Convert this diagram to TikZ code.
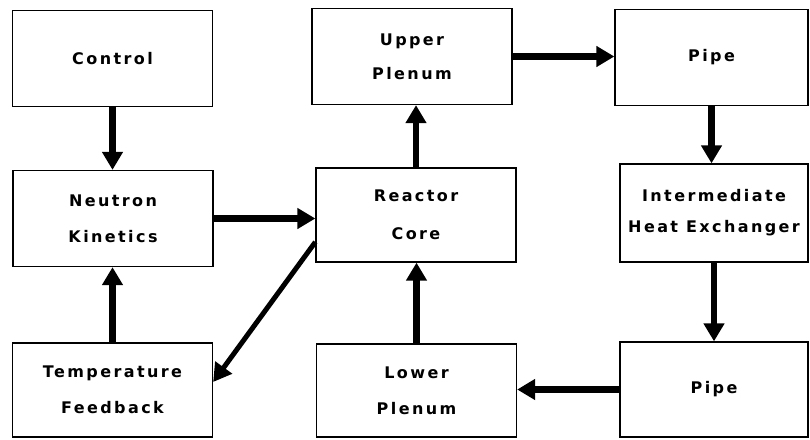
\documentclass[tikz,border=0pt]{standalone}
\usepackage{fontspec}
\newfontfamily\blockfont[LetterSpace=15, BoldFont={DejaVu Sans Bold}]{DejaVu Sans}
\usetikzlibrary{arrows.meta, calc, positioning}

\begin{document}
\begin{tikzpicture}[x=1pt, y=-1pt, inner sep=0pt,
  blok/.style={draw, line width=1.3pt, minimum width=200pt, minimum height=96pt,
    align=center, font={\blockfont\bfseries\fontsize{16}{36}\selectfont}},
  flow/.style={line width=6.5pt, -{Triangle[length=18pt,width=20pt]}}]
\useasboundingbox (0,0) rectangle (810,439);
\node[blok] (control) at (112.5,58.5) {Control};
\node[blok] (neutron) at (113,218.5) {Neutron\\Kinetics};
\node[blok, minimum height=94pt] (tempfb) at (112.5,390) {Temperature\\Feedback};
\node[blok] (upper) at (412,56.5) {Upper\\[-2pt]Plenum};
\node[blok, minimum height=94pt] (core) at (416,215) {Reactor\\[2pt]Core};
\node[blok, minimum height=93pt] (lower) at (416.5,390.5) {Lower\\Plenum};
\node[blok, minimum width=193pt] (pipeA) at (711.5,57.5) {Pipe};
\node[blok, minimum width=188pt, minimum height=98pt] (ihx) at (714,213) {Intermediate\\[-5pt]Heat Exchanger};
\node[blok, minimum width=188pt, minimum height=95pt] (pipeB) at (714,389.5) {Pipe};
\draw[flow] (control.south) -- (control.south |- neutron.north);
\draw[flow] (tempfb.north) -- (tempfb.north |- neutron.south);
\draw[flow] (neutron.east) -- (neutron.east -| core.west);
\draw[flow, line width=5pt] ($(core.west)+(0,27)$) -- ($(tempfb.east)+(0,-8)$);
\draw[flow] (core.north) -- (core.north |- upper.south);
\draw[flow] (upper.east) -- (upper.east -| pipeA.west);
\draw[flow] (pipeA.south) -- (pipeA.south |- ihx.north);
\draw[flow] (ihx.south) -- (ihx.south |- pipeB.north);
\draw[flow] (pipeB.west) -- (pipeB.west -| lower.east);
\draw[flow] (lower.north) -- (lower.north |- core.south);
\end{tikzpicture}
\end{document}
